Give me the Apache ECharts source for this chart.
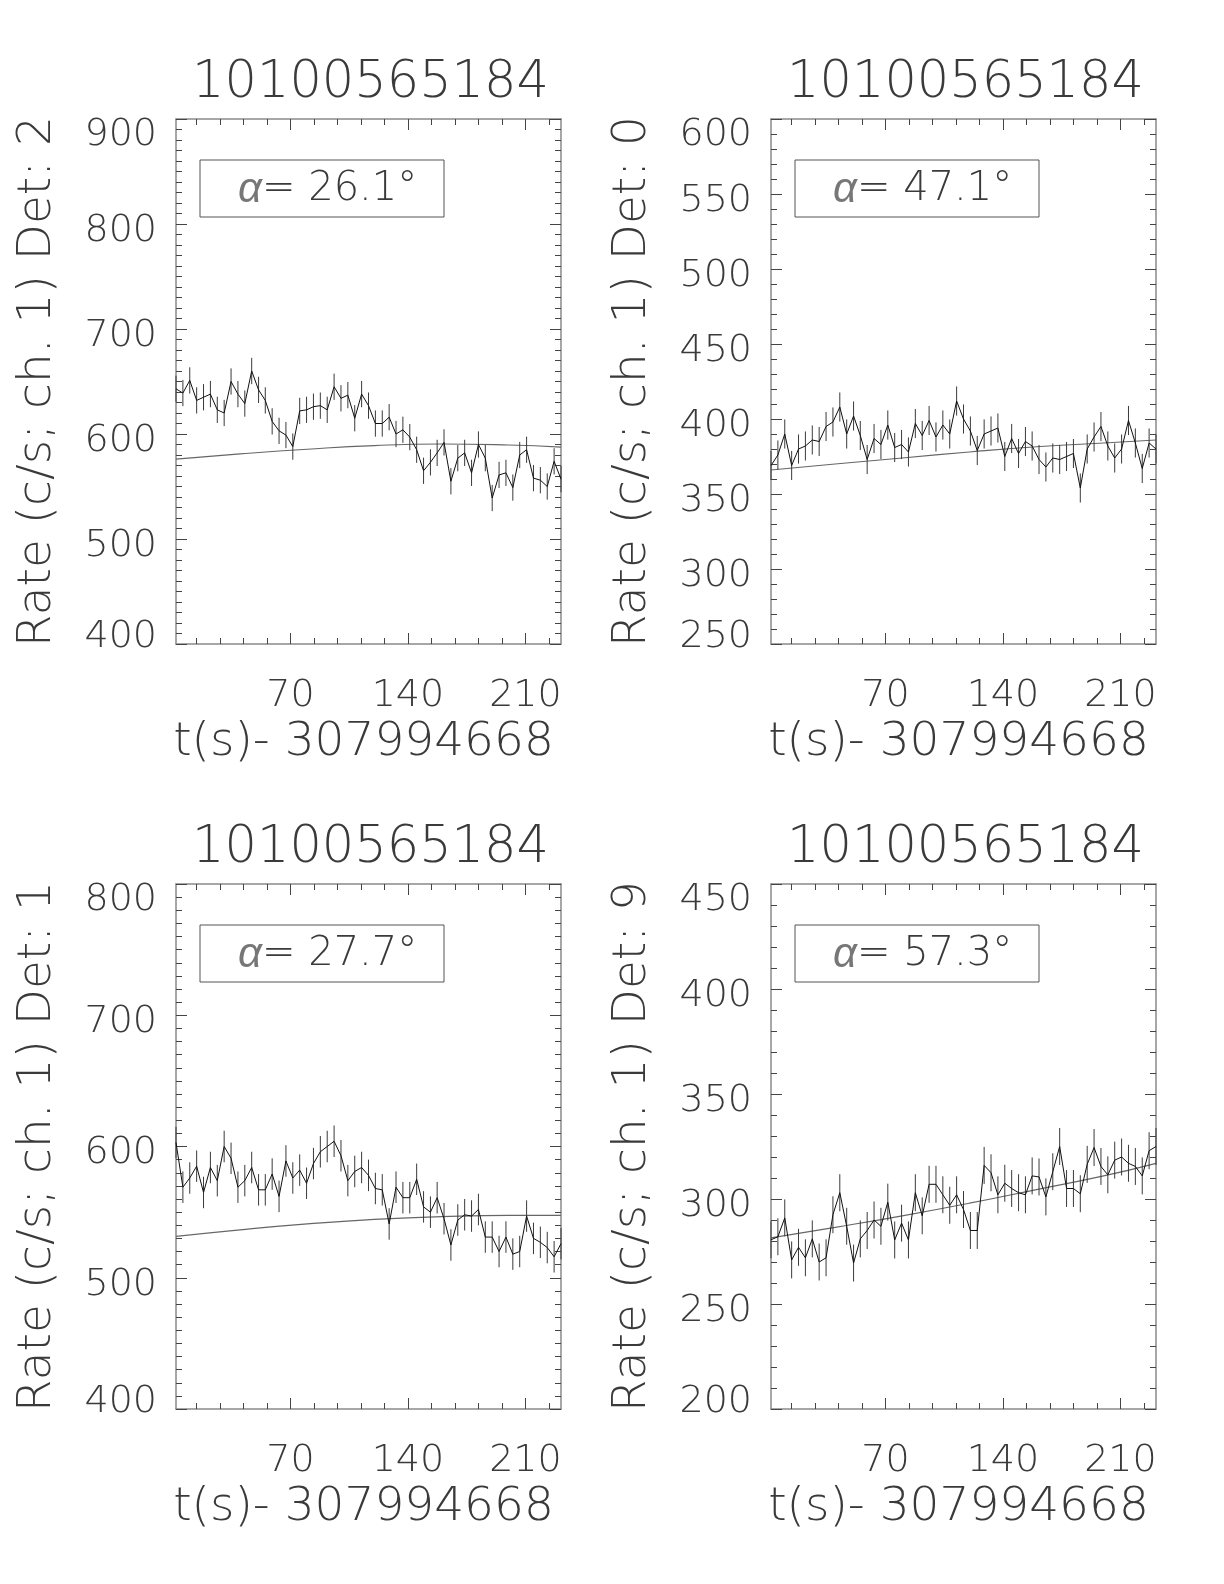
<!DOCTYPE html>
<html><head><meta charset="utf-8">
<script src="https://cdn.jsdelivr.net/npm/echarts@6/dist/echarts.min.js"></script>
<style>html,body{margin:0;padding:0;background:#fff}#c{width:1224px;height:1584px}</style>
</head><body><div id="c"></div>
<script>
// ---- data ----
const times = [1.8, 5.9, 10.0, 14.1, 18.2, 22.3, 26.4, 30.5, 34.6, 38.7, 42.8, 46.9, 51.0, 55.0, 59.1, 63.2, 67.3, 71.4, 75.5, 79.6, 83.7, 87.8, 91.9, 96.0, 100.1, 104.2, 108.3, 112.4, 116.5, 120.6, 124.7, 128.8, 132.9, 137.0, 141.1, 145.2, 149.3, 153.4, 157.4, 161.5, 165.6, 169.7, 173.8, 177.9, 182.0, 186.1, 190.2, 194.3, 198.4, 202.5, 206.6, 210.7, 214.8, 218.9, 223.0, 227.1, 231.2];

const rateDet2 = [643, 639, 651, 632, 635, 638, 623, 620, 650, 638, 629, 660, 642, 632, 612, 603, 599, 588, 622, 623, 626, 627, 623, 645, 634, 637, 615, 638, 627, 610, 610, 616, 600, 604, 597, 585, 565, 573, 582, 592, 555, 577, 582, 563, 590, 577, 539, 561, 563, 549, 580, 585, 558, 556, 550, 574, 557];
const rateDet0 = [369, 376, 390, 369, 380, 382, 386, 385, 395, 398, 408, 390, 402, 389, 373, 387, 383, 396, 381, 383, 378, 397, 389, 399, 388, 396, 390, 412, 400, 392, 379, 390, 392, 394, 375, 387, 377, 385, 382, 373, 368, 374, 373, 375, 377, 354, 380, 388, 395, 382, 374, 380, 399, 384, 367, 384, 380];
const rateDet1 = [603, 569, 576, 585, 565, 584, 574, 600, 591, 569, 574, 584, 567, 567, 579, 562, 589, 576, 582, 572, 587, 596, 600, 604, 593, 574, 581, 584, 578, 568, 567, 541, 569, 561, 561, 575, 554, 550, 561, 545, 525, 544, 548, 547, 552, 531, 531, 520, 531, 518, 520, 547, 530, 527, 523, 516, 526];
const rateDet9 = [280.6, 282, 291, 271, 277, 272, 281, 270, 272, 292.5, 303, 287, 269.5, 281, 285, 290, 287, 298.5, 280.5, 288.5, 280.5, 303, 292, 307, 307, 302, 297, 302, 295, 285, 285, 316, 312.5, 302, 307.5, 305, 303, 302, 311, 310.5, 301, 313, 325, 305, 305, 302.5, 316.5, 324.5, 315.5, 311.5, 318.5, 320, 317, 315.5, 311, 323, 325];

// half-length of the error bars, per panel
const errDet2 = 12.5, errDet0 = 9.7, errDet1 = 12.0, errDet9 = 8.8;

// background fit curves (knots)
const fitTimes = [1.8, 40, 80, 120, 160, 200, 231.2];
const fitDet2 = [576, 581, 585.5, 589, 590.5, 589.5, 587.5];
const fitDet0 = [366, 370, 374, 378, 381.5, 384, 386];
const fitDet1 = [531.5, 536.5, 541, 544.5, 546.5, 547.5, 547.5];
const fitDet9 = [281.5, 286.5, 292, 298, 304.5, 311, 317];

const titles = ['10100565184', '10100565184', '10100565184', '10100565184'];
const detectors = ['2', '0', '1', '9'];
const alphas = ['26.1', '47.1', '27.7', '57.3'];
const yMins = [400, 250, 400, 200];
const yMaxs = [900, 600, 800, 450];
const yMajorSteps = [100, 50, 100, 50];
const yMinorSplits = [10, 5, 10, 5];
const xMajorTicks = [70, 140, 210];
const xMinorTicks = [14, 28, 42, 56, 84, 98, 112, 126, 154, 168, 182, 196, 224];
const xTitle = 't(s)- 307994668';

// ---- layout / style ----
const rates = [rateDet2, rateDet0, rateDet1, rateDet9];
const errs = [errDet2, errDet0, errDet1, errDet9];
const fits = [fitDet2, fitDet0, fitDet1, fitDet9];
const gridPos = [[176, 119], [771, 119], [176, 884], [771, 884]];
const GW = 385, GH = 525;
const FONT = 'DejaVu Sans';
const FW = 200;
const TXT = '#3a3a3a';
const FRAME = '#8a8a8a';
const TICK = '#444';

const grid = [], xAxis = [], yAxis = [], series = [], graphic = [];

function labelStyle(extra) {
  return Object.assign({fontSize: 38, fontFamily: FONT, fontWeight: FW, color: TXT}, extra);
}

rates.forEach((vals, k) => {
  const [gl, gt] = gridPos[k];
  grid.push({left: gl, top: gt, width: GW, height: GH, containLabel: false, outerBoundsMode: 'none'});
  const xi = xAxis.length, yi = yAxis.length;
  const xc = {type: 'value', gridIndex: k, min: times[0], max: times[times.length - 1],
    splitLine: {show: false}};
  xAxis.push(Object.assign({}, xc, {
    position: 'bottom',
    axisLine: {show: true, lineStyle: {color: FRAME, width: 1.5}},
    axisTick: {show: true, inside: true, length: 11, customValues: xMajorTicks, lineStyle: {color: TICK}},
    axisLabel: {show: true, customValues: xMajorTicks, margin: 33, fontSize: 38, fontFamily: FONT, fontWeight: FW, color: TXT},
    name: xTitle, nameLocation: 'middle', nameGap: 75,
    nameTextStyle: {fontSize: 47, fontFamily: FONT, fontWeight: FW, color: TXT, padding: [0, 10, 0, 0]}
  }));
  xAxis.push(Object.assign({}, xc, {
    position: 'bottom', axisLine: {show: false},
    axisTick: {show: true, inside: true, length: 6, customValues: xMinorTicks, lineStyle: {color: TICK}},
    axisLabel: {show: false}
  }));
  xAxis.push(Object.assign({}, xc, {
    position: 'top',
    axisLine: {show: true, lineStyle: {color: FRAME, width: 1.5}},
    axisTick: {show: true, inside: true, length: 11, customValues: xMajorTicks, lineStyle: {color: TICK}},
    axisLabel: {show: false}
  }));
  xAxis.push(Object.assign({}, xc, {
    position: 'top', axisLine: {show: false},
    axisTick: {show: true, inside: true, length: 6, customValues: xMinorTicks, lineStyle: {color: TICK}},
    axisLabel: {show: false}
  }));
  const yc = {type: 'value', gridIndex: k, min: yMins[k], max: yMaxs[k], interval: yMajorSteps[k],
    splitLine: {show: false}, minorSplitLine: {show: false},
    axisLine: {show: true, lineStyle: {color: FRAME, width: 1.5}},
    axisTick: {show: true, inside: true, length: 11, lineStyle: {color: TICK}},
    minorTick: {show: true, splitNumber: yMinorSplits[k], length: 6, lineStyle: {color: TICK}}};
  const ymin = yMins[k], ymax = yMaxs[k];
  yAxis.push(Object.assign({}, yc, {
    position: 'left',
    axisLabel: {show: true, margin: 19, fontSize: 38, fontFamily: FONT, fontWeight: FW, color: TXT,
      formatter: function (v) {
        if (v === ymax) return '{mx|' + v + '}';
        if (v === ymin) return '{mn|' + v + '}';
        return '{md|' + v + '}';
      },
      rich: {
        mx: labelStyle({padding: [32, 0, 0, 0]}),
        mn: labelStyle({padding: [0, 0, 14, 0]}),
        md: labelStyle({padding: [14, 0, 0, 0]})
      }},
    name: 'Rate (c/s; ch. 1) Det: ' + detectors[k], nameLocation: 'middle', nameGap: 115,
    nameTextStyle: {fontSize: 47, fontFamily: FONT, fontWeight: FW, color: TXT}
  }));
  yAxis.push(Object.assign({}, yc, {position: 'right', axisLabel: {show: false}}));

  series.push({
    type: 'line', xAxisIndex: xi, yAxisIndex: yi, symbol: 'none', smooth: true,
    lineStyle: {color: '#666', width: 1.2}, z: 2,
    data: fitTimes.map((t, i) => [t, fits[k][i]])
  });
  series.push({
    type: 'custom', xAxisIndex: xi, yAxisIndex: yi, z: 3,
    data: times.map((t, i) => [t, vals[i], errs[k]]),
    renderItem: function (params, api) {
      const x = api.value(0), y = api.value(1), e = api.value(2);
      const a = api.coord([x, y - e]), b = api.coord([x, y + e]);
      return {type: 'line', shape: {x1: a[0], y1: a[1], x2: b[0], y2: b[1]},
        style: {stroke: '#3a3a3a', lineWidth: 1}};
    }
  });
  series.push({
    type: 'line', xAxisIndex: xi, yAxisIndex: yi, symbol: 'none', z: 4,
    lineStyle: {color: '#111', width: 1},
    data: times.map((t, i) => [t, vals[i]])
  });

  graphic.push({
    type: 'text', x: gl + GW / 2 + 2, y: gt - 35,
    style: {text: titles[k], align: 'center', verticalAlign: 'middle', fontSize: 51,
      fontFamily: FONT, fontWeight: FW, fill: TXT}
  });
  graphic.push({
    type: 'rect', shape: {x: gl + 24, y: gt + 41, width: 244, height: 57},
    style: {fill: 'none', stroke: '#555', lineWidth: 1}
  });
  graphic.push({
    type: 'text', x: gl + 62, y: gt + 71,
    style: {text: '{a|α}= ' + alphas[k] + '°', verticalAlign: 'middle', align: 'left',
      fontSize: 40, fontFamily: FONT, fontWeight: FW, fill: TXT,
      rich: {
        a: {fontSize: 42, fontStyle: 'italic', fontFamily: 'Liberation Sans', fontWeight: 'normal', fill: '#777'}
      }}
  });
});

const chart = echarts.init(document.getElementById('c'));
chart.setOption({
  backgroundColor: '#fff',
  animation: false,
  grid, xAxis, yAxis, series, graphic
});
</script></body></html>
